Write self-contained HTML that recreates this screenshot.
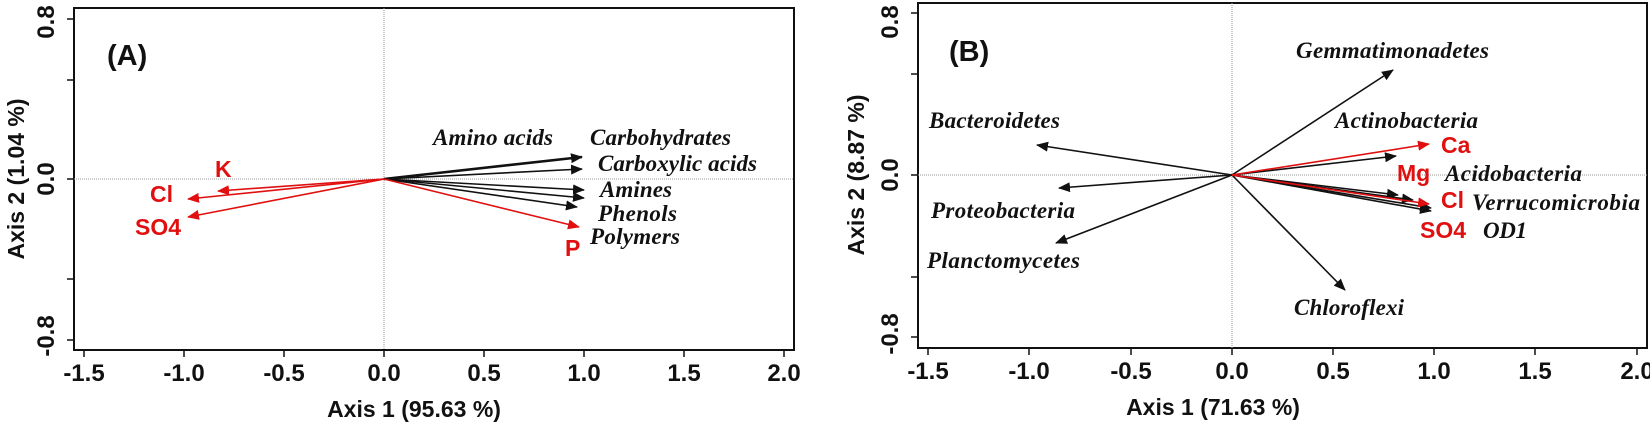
<!DOCTYPE html>
<html><head><meta charset="utf-8"><style>
html,body{margin:0;padding:0;background:#fff;}
svg{display:block;}
.t{font-family:"Liberation Sans",sans-serif;font-weight:bold;font-size:24px;fill:#111;}
.i{font-family:"Liberation Serif",serif;font-weight:bold;font-style:italic;font-size:23px;fill:#111;}
.r{font-family:"Liberation Sans",sans-serif;font-weight:bold;font-size:23px;fill:#e01010;}
</style></head><body>
<svg width="1650" height="428" viewBox="0 0 1650 428" xmlns="http://www.w3.org/2000/svg">
<defs>
<marker id="ab" viewBox="0 0 12 10" refX="11" refY="5" markerWidth="12" markerHeight="10" markerUnits="userSpaceOnUse" orient="auto"><path d="M0,0 L12,5 L0,10 z" fill="#111"/></marker>
<marker id="ar" viewBox="0 0 12 10" refX="11" refY="5" markerWidth="12" markerHeight="10" markerUnits="userSpaceOnUse" orient="auto"><path d="M0,0 L12,5 L0,10 z" fill="#e01010"/></marker>
</defs>
<!-- Panel A -->
<rect x="74" y="8" width="720" height="342" fill="none" stroke="#111" stroke-width="2"/>
<line x1="384" y1="8" x2="384" y2="350" stroke="#999" stroke-width="1" stroke-dasharray="1,1"/>
<line x1="74" y1="179" x2="794" y2="179" stroke="#999" stroke-width="1" stroke-dasharray="1,1"/>
<g stroke="#111" stroke-width="1.5">
<line x1="84" y1="350" x2="84" y2="357"/><line x1="184" y1="350" x2="184" y2="357"/><line x1="284" y1="350" x2="284" y2="357"/><line x1="384" y1="350" x2="384" y2="357"/><line x1="484" y1="350" x2="484" y2="357"/><line x1="584" y1="350" x2="584" y2="357"/><line x1="684" y1="350" x2="684" y2="357"/><line x1="784" y1="350" x2="784" y2="357"/>
<line x1="67" y1="19" x2="74" y2="19"/><line x1="67" y1="80" x2="74" y2="80"/><line x1="67" y1="179" x2="74" y2="179"/><line x1="67" y1="279" x2="74" y2="279"/><line x1="67" y1="340" x2="74" y2="340"/>
</g>
<g class="t" text-anchor="middle">
<text x="84" y="381">-1.5</text><text x="184" y="381">-1.0</text><text x="284" y="381">-0.5</text><text x="384" y="381">0.0</text><text x="484" y="381">0.5</text><text x="584" y="381">1.0</text><text x="684" y="381">1.5</text><text x="784" y="381">2.0</text>
<text x="414" y="417" style="font-size:23px">Axis 1 (95.63 %)</text>
<text transform="translate(54,22) rotate(-90)">0.8</text>
<text transform="translate(54,179) rotate(-90)">0.0</text>
<text transform="translate(54,336) rotate(-90)">-0.8</text>
<text transform="translate(24,179) rotate(-90)" style="font-size:23px">Axis 2 (1.04 %)</text>
</g>
<text class="t" x="107" y="65" style="font-size:29px">(A)</text>
<g stroke="#111" stroke-width="1.6" marker-end="url(#ab)">
<line x1="384" y1="179" x2="582" y2="157" stroke-width="2.6"/>
<line x1="384" y1="179" x2="582" y2="169"/>
<line x1="384" y1="179" x2="584" y2="190"/>
<line x1="384" y1="179" x2="584" y2="198"/>
<line x1="384" y1="179" x2="577" y2="207"/>
</g>
<g stroke="#e01010" stroke-width="1.6" marker-end="url(#ar)">
<line x1="384" y1="179" x2="579" y2="227"/>
<line x1="384" y1="179" x2="218" y2="191"/>
<line x1="384" y1="179" x2="188" y2="199"/>
<line x1="384" y1="179" x2="188" y2="217"/>
</g>
<g class="i">
<text x="433" y="145" textLength="120">Amino acids</text>
<text x="590" y="145" textLength="141">Carbohydrates</text>
<text x="598" y="171" textLength="159">Carboxylic acids</text>
<text x="600" y="197" textLength="72">Amines</text>
<text x="598" y="221" textLength="79">Phenols</text>
<text x="590" y="244" textLength="90">Polymers</text>
</g>
<g class="r">
<text x="565" y="256">P</text>
<text x="215" y="177">K</text>
<text x="150" y="202">Cl</text>
<text x="135" y="235">SO4</text>
</g>
<!-- Panel B -->
<rect x="918" y="3" width="729" height="345" fill="none" stroke="#111" stroke-width="2"/>
<line x1="1232" y1="3" x2="1232" y2="348" stroke="#999" stroke-width="1" stroke-dasharray="1,1"/>
<line x1="918" y1="175" x2="1647" y2="175" stroke="#999" stroke-width="1" stroke-dasharray="1,1"/>
<g stroke="#111" stroke-width="1.5">
<line x1="928" y1="348" x2="928" y2="355"/><line x1="1029" y1="348" x2="1029" y2="355"/><line x1="1131" y1="348" x2="1131" y2="355"/><line x1="1232" y1="348" x2="1232" y2="355"/><line x1="1333" y1="348" x2="1333" y2="355"/><line x1="1434" y1="348" x2="1434" y2="355"/><line x1="1535" y1="348" x2="1535" y2="355"/><line x1="1637" y1="348" x2="1637" y2="355"/>
<line x1="911" y1="13" x2="918" y2="13"/><line x1="911" y1="74" x2="918" y2="74"/><line x1="911" y1="175" x2="918" y2="175"/><line x1="911" y1="277" x2="918" y2="277"/><line x1="911" y1="337" x2="918" y2="337"/>
</g>
<g class="t" text-anchor="middle">
<text x="928" y="379">-1.5</text><text x="1029" y="379">-1.0</text><text x="1131" y="379">-0.5</text><text x="1232" y="379">0.0</text><text x="1333" y="379">0.5</text><text x="1434" y="379">1.0</text><text x="1535" y="379">1.5</text><text x="1637" y="379">2.0</text>
<text x="1213" y="415" style="font-size:23px">Axis 1 (71.63 %)</text>
<text transform="translate(898,22) rotate(-90)">0.8</text>
<text transform="translate(898,175) rotate(-90)">0.0</text>
<text transform="translate(898,334) rotate(-90)">-0.8</text>
<text transform="translate(864,175) rotate(-90)" style="font-size:23px">Axis 2 (8.87 %)</text>
</g>
<text class="t" x="949" y="61" style="font-size:29px">(B)</text>
<g stroke="#111" stroke-width="1.6" marker-end="url(#ab)">
<line x1="1232" y1="175" x2="1393" y2="70"/>
<line x1="1232" y1="175" x2="1396" y2="156"/>
<line x1="1232" y1="175" x2="1398" y2="195"/>
<line x1="1232" y1="175" x2="1413" y2="200"/>
<line x1="1232" y1="175" x2="1431" y2="208"/>
<line x1="1232" y1="175" x2="1431" y2="211"/>
<line x1="1232" y1="175" x2="1345" y2="290"/>
<line x1="1232" y1="175" x2="1037" y2="145"/>
<line x1="1232" y1="175" x2="1059" y2="188"/>
<line x1="1232" y1="175" x2="1056" y2="243"/>
</g>
<g stroke="#e01010" stroke-width="1.6" marker-end="url(#ar)">
<line x1="1232" y1="175" x2="1429" y2="144"/>
<line x1="1232" y1="175" x2="1429" y2="204"/>
</g>
<g class="i">
<text x="1296" y="58" textLength="193">Gemmatimonadetes</text>
<text x="1335" y="128" textLength="143">Actinobacteria</text>
<text x="1445" y="181" textLength="137">Acidobacteria</text>
<text x="1472" y="210" textLength="168">Verrucomicrobia</text>
<text x="1483" y="238" textLength="44">OD1</text>
<text x="1294" y="315" textLength="110">Chloroflexi</text>
<text x="929" y="128" textLength="131">Bacteroidetes</text>
<text x="931" y="218" textLength="144">Proteobacteria</text>
<text x="927" y="268" textLength="153">Planctomycetes</text>
</g>
<g class="r">
<text x="1441" y="153">Ca</text>
<text x="1397" y="181">Mg</text>
<text x="1441" y="208">Cl</text>
<text x="1420" y="238">SO4</text>
</g>
</svg>
</body></html>
